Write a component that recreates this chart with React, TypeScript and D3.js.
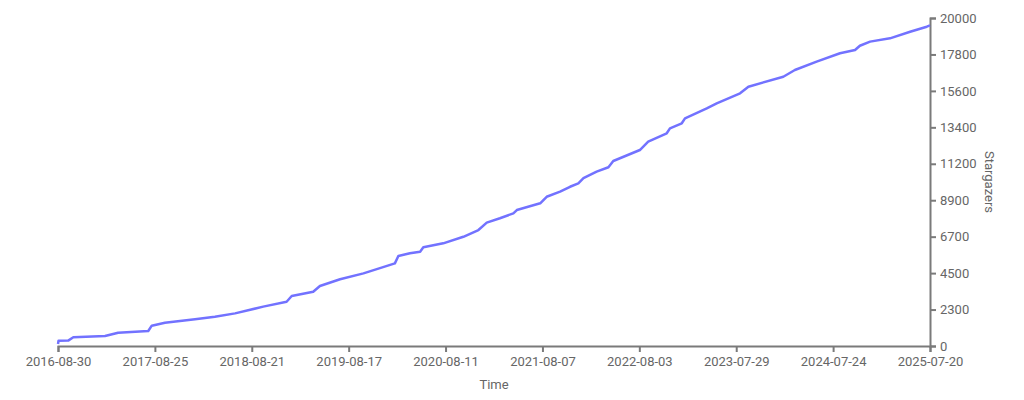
import React, { useEffect, useRef } from "react";
import * as d3 from "d3";

const dates: string[] = [
  "2016-08-30", "2016-09-01", "2016-10-07", "2016-10-26", "2017-02-21", "2017-04-11",
  "2017-08-01", "2017-08-14", "2017-10-02", "2018-01-22", "2018-04-06", "2018-06-20",
  "2018-10-03", "2018-12-29", "2019-01-17", "2019-04-07", "2019-05-02", "2019-07-16",
  "2019-10-11", "2020-02-05", "2020-02-18", "2020-04-01", "2020-05-09", "2020-05-21",
  "2020-08-03", "2020-10-17", "2020-12-12", "2021-01-12", "2021-03-02", "2021-04-21",
  "2021-05-04", "2021-07-30", "2021-08-23", "2021-10-12", "2021-11-18", "2021-12-19",
  "2022-01-07", "2022-02-25", "2022-04-10", "2022-04-28", "2022-08-05", "2022-09-05",
  "2022-11-13", "2022-11-25", "2023-01-08", "2023-01-20", "2023-04-11", "2023-05-18",
  "2023-08-13", "2023-09-13", "2024-01-21", "2024-03-04", "2024-05-24", "2024-08-19",
  "2024-10-14", "2024-11-01", "2024-12-09", "2025-02-21", "2025-05-07", "2025-07-08",
  "2025-07-20",
];
const stargazers: number[] = [
  120, 320, 330, 530, 610, 810,
  915, 1240, 1420, 1630, 1790, 1990,
  2400, 2700, 3050, 3310, 3660, 4070,
  4430, 5040, 5490, 5650, 5750, 6020,
  6260, 6660, 7070, 7520, 7790, 8090,
  8290, 8700, 9100, 9410, 9710, 9920,
  10230, 10630, 10900, 11280, 11950, 12460,
  12970, 13270, 13580, 13880, 14490, 14800,
  15410, 15810, 16420, 16830, 17340, 17850,
  18050, 18310, 18560, 18760, 19160, 19470,
  19550,
];
const xTickLabels: string[] = [
  "2016-08-30", "2017-08-25", "2018-08-21", "2019-08-17", "2020-08-11",
  "2021-08-07", "2022-08-03", "2023-07-29", "2024-07-24", "2025-07-20",
];
const yTickLabels: string[] = [
  "0", "2300", "4500", "6700", "8900", "11200", "13400", "15600", "17800", "20000",
];
const yMax = 20000;

export default function App() {
  const ref = useRef<SVGSVGElement | null>(null);

  useEffect(() => {
    const svg = d3.select(ref.current);
    svg.selectAll("*").remove();
    const left = 58, right = 930, top = 18, bottom = 346;
    const parse = d3.utcParse("%Y-%m-%d");
    const x = d3.scaleUtc()
      .domain([parse(xTickLabels[0])!, parse(xTickLabels[xTickLabels.length - 1])!])
      .range([left, right]);
    const y = d3.scaleLinear().domain([0, yMax]).range([bottom, top]);

    const xTickVals = xTickLabels.map((_, i) => i);
    const xIdx = d3.scaleLinear().domain([0, xTickLabels.length - 1]).range([left, right]);
    const yIdx = d3.scaleLinear().domain([0, yTickLabels.length - 1]).range([bottom, top]);

    const axisColor = "#7a7a7a";
    const textColor = "#666";
    const font = "Roboto, sans-serif";

    const gx = svg.append("g").attr("transform", `translate(0,${bottom})`)
      .call(d3.axisBottom(xIdx).tickValues(xTickVals).tickFormat((d: any) => xTickLabels[d]).tickSize(6).tickSizeOuter(6).tickPadding(5));
    const gy = svg.append("g").attr("transform", `translate(${right},0)`)
      .call(d3.axisRight(yIdx).tickValues(yTickLabels.map((_, i) => i)).tickFormat((d: any) => yTickLabels[d]).tickSize(6).tickSizeOuter(6).tickPadding(4));

    [gx, gy].forEach((g) => {
      g.select(".domain").attr("stroke", axisColor).attr("stroke-width", 2);
      g.selectAll(".tick line").attr("stroke", axisColor).attr("stroke-width", 2);
      g.selectAll(".tick text").attr("fill", textColor).attr("font-size", 13).attr("font-family", font);
    });

    const data = dates.map((d, i) => ({ date: parse(d)!, v: stargazers[i] }));
    const line = d3.line<{ date: Date; v: number }>()
      .x((d) => x(d.date))
      .y((d) => y(d.v))
      .curve(d3.curveLinear);
    svg.append("path").datum(data).attr("d", line)
      .attr("fill", "none").attr("stroke", "#7272ff").attr("stroke-width", 2.5)
      .attr("stroke-linejoin", "round");

    svg.append("text").attr("x", (left + right) / 2).attr("y", 389)
      .attr("text-anchor", "middle").attr("fill", textColor).attr("font-size", 13)
      .attr("font-family", font).text("Time");
    svg.append("text")
      .attr("transform", `translate(985,${(top + bottom) / 2}) rotate(90)`)
      .attr("text-anchor", "middle").attr("fill", textColor).attr("font-size", 13)
      .attr("font-family", font).text("Stargazers");
  }, []);

  return (
    <svg ref={ref} width={1024} height={400}
      style={{ position: "absolute", left: 0, top: 0, background: "#fff" }} />
  );
}
